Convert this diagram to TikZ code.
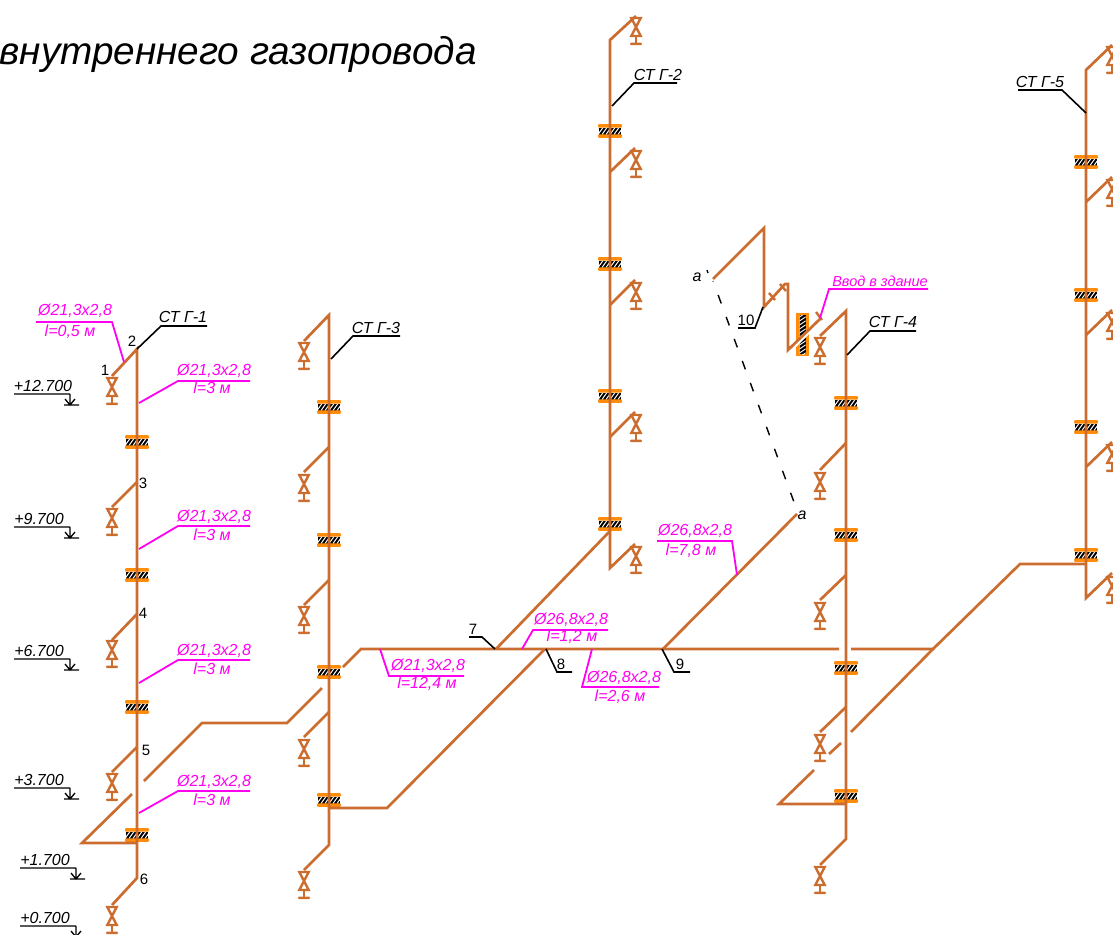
\documentclass[tikz,border=0pt]{standalone}
\usepackage{fontspec}
\setmainfont{Liberation Sans}
\definecolor{pipec}{HTML}{CC6D30}
\definecolor{sleevec}{HTML}{FF8C0A}
\definecolor{mag}{HTML}{FF00F0}
\tikzset{
  x=1pt,y=-1pt,
  pipe/.style={draw=pipec,line width=2.7pt,line join=miter},
  pipethin/.style={draw=pipec,line width=2.4pt},
  lead/.style={draw=black,line width=1.6pt},
  mlead/.style={draw=mag,line width=1.8pt},
  lvl/.style={draw=black,line width=1.3pt},
  mtxt/.style={text=mag,font=\fontsize{16}{16}\selectfont\itshape,inner sep=0pt},
  btxt/.style={text=black,font=\fontsize{16}{16}\selectfont\itshape,inner sep=0pt},
  ntxt/.style={text=black,font=\fontsize{15}{15}\selectfont,inner sep=0pt},
  atxt/.style={text=black,font=\fontsize{16}{16}\selectfont\itshape,inner sep=0pt},
  valvepic/.pic={
    \draw[pipethin,line join=miter] (-4.7,0) -- (4.7,0) -- (-4.7,18) -- (4.7,18) -- cycle;
    \draw[pipethin,line cap=round] (0,18) -- (0,25.5);
    \fill[pipec,rounded corners=1pt] (-6,24.6) rectangle (6,27.2);
  },
  sleevepic/.pic={
    \fill[black] (-11,-3.5) rectangle (11,3.5);
    \begin{scope}
      \clip (-11,-3.5) rectangle (11,3.5);
      \foreach \d in {-9,-5,-1,3,7,11}
        \draw[white,line width=1pt] (\d-3,3.5) -- (\d+2,-3.5);
    \end{scope}
    \fill[sleevec,rounded corners=1pt] (-12,-6.8) rectangle (12,-3.4) (-12,3.4) rectangle (12,6.8);
  },
  levelpic/.pic={
    \draw[lvl] (-56,0) -- (0,0) (0,0) -- (0,11) (-6,11) -- (9,11) (-5,5) -- (0,11) -- (5,5);
  },
}
\begin{document}
\begin{tikzpicture}
\useasboundingbox (0,0) rectangle (1113,934);
\clip (0,0) rectangle (1113,934);

% sleeves
\foreach \x/\y in {137/442,137/575,137/707,137/835,
  329/407,329/540,329/672,329/800,
  610/131,610/264,610/396,610/524,
  846/403,846/535,846/668,846/796,
  1086/162,1086/295,1086/427,1086/555}
  \pic at (\x,\y) {sleevepic};

% wall
\fill[sleevec] (796,313) rectangle (809,356);
\fill[black] (799.5,315) rectangle (805.5,354);
\begin{scope}
  \clip (799.5,315) rectangle (805.5,354);
  \foreach \d in {315,319,...,355}
    \draw[white,line width=.9pt] (798,\d+3) -- (807,\d-3);
\end{scope}
\fill[white] (790,347) -- (815,322) -- (815,328) -- (790,353) -- cycle;

% risers with their valve branches
\draw[pipe] (112,376) -- (137,349) -- (137,878) -- (112,905);
\draw[pipe] (137,482) -- (112,507);
\draw[pipe] (137,614) -- (112,640);
\draw[pipe] (137,747) -- (112,772);
\foreach \x/\y in {112/378,112/509,112/641,112/774,112/907}
  \pic at (\x,\y) {valvepic};

\draw[pipe] (304,341) -- (329,315) -- (329,845) -- (304,870);
\draw[pipe] (329,447) -- (304,472);
\draw[pipe] (329,580) -- (304,605);
\draw[pipe] (329,712) -- (304,737);
\foreach \x/\y in {304/343,304/475,304/607,304/740,304/872}
  \pic at (\x,\y) {valvepic};

\draw[pipe] (636,16) -- (610,40) -- (610,568) -- (635,544);
\draw[pipe] (610,172) -- (635,148);
\draw[pipe] (610,305) -- (635,280);
\draw[pipe] (610,437) -- (635,412);
\foreach \x/\y in {636/18,636/151,636/283,636/415,636/547}
  \pic at (\x,\y) {valvepic};

\draw[pipe] (820,336) -- (846,311) -- (846,839) -- (820,865);
\draw[pipe] (846,443) -- (820,470);
\draw[pipe] (846,575) -- (820,600);
\draw[pipe] (846,707) -- (820,732);
\foreach \x/\y in {820/338,820/473,820/603,820/735,820/867}
  \pic at (\x,\y) {valvepic};

\draw[pipe] (1112,45) -- (1086,70) -- (1086,598) -- (1112,573);
\draw[pipe] (1086,202) -- (1112,177);
\draw[pipe] (1086,335) -- (1112,310);
\draw[pipe] (1086,467) -- (1112,442);
\foreach \x/\y in {1112/47,1112/180,1112/313,1112/445,1112/577}
  \pic at (\x,\y) {valvepic};

% distribution piping
\draw[pipe] (137,843) -- (82,843) -- (132,794);
\draw[pipe] (144,781) -- (202,723) -- (287,723) -- (322,688);
\draw[pipe] (343,667) -- (361,649) -- (839,649);
\draw[pipe] (851,732) -- (933,649) -- (1020,564) -- (1086,564);
\draw[pipe,line join=bevel] (851,649) -- (933,649) -- (934,648);
\draw[pipe] (329,808) -- (387,808) -- (545,649);
\draw[pipe] (496,649) -- (610,531);
\draw[pipe] (841,743) -- (829,754);
\draw[pipe] (814,770) -- (779,804) -- (846,804);
\draw[pipe] (663,649) -- (797,514);

% entry
\draw[pipe] (713,279) -- (764,228) -- (764,307) -- (785,284) -- (788,284) -- (788,350) -- (821,318);
\draw[pipethin] (769,293) -- (775,300) (780,284) -- (786,291) (816,312) -- (822,320);

% dashed section line
\draw[black,line width=1.4pt,dash pattern=on 9pt off 14.4pt,dash phase=8.5pt] (713,281) -- (798,513);
\draw[black,line width=1.4pt] (707,270) -- (708,273);

% level marks
\foreach \x/\y in {70/394,70/527,70/659,70/788,76/868,76/926}
  \pic at (\x,\y) {levelpic};
\node[btxt] (l1) at (43,386) {+12.700};
\node[btxt] (l2) at (39,519) {+9.700};
\node[btxt] (l3) at (39,651) {+6.700};
\node[btxt] (l4) at (39,780) {+3.700};
\node[btxt] (l5) at (45,860) {+1.700};
\node[btxt] (l6) at (45,918) {+0.700};

% black leaders
\draw[lead] (137,349) -- (161,326) -- (207,326);
\draw[lead] (331,359) -- (353,336) -- (400,336);
\draw[lead] (612,106) -- (634,83) -- (677,83);
\draw[lead] (847,355) -- (870,331) -- (916,331);
\draw[lead] (1086,113) -- (1062,90) -- (1018,90);
\draw[lead] (469,637) -- (482,637) -- (495,649);
\draw[lead] (546,649) -- (557,672) -- (572,672);
\draw[lead] (662,649) -- (674,672) -- (690,672);
\draw[lead] (763,307) -- (755,328) -- (738,328);

\node[btxt] (g1) at (183,317) {СТ Г-1};
\node[btxt] (g3) at (376,328) {СТ Г-3};
\node[btxt] (g2) at (658,75) {СТ Г-2};
\node[btxt] (g4) at (893,322) {СТ Г-4};
\node[btxt] (g5) at (1040,82) {СТ Г-5};

\node[ntxt] (n1) at (105,370) {1};
\node[ntxt] (n2) at (132,341) {2};
\node[ntxt] (n3) at (143,483) {3};
\node[ntxt] (n4) at (143,613) {4};
\node[ntxt] (n5) at (146,750) {5};
\node[ntxt] (n6) at (144,879) {6};
\node[ntxt] (n7) at (473,629) {7};
\node[ntxt] (n8) at (561,664) {8};
\node[ntxt] (n9) at (680,664) {9};
\node[ntxt] (n10) at (746,320) {10};
\node[atxt] (a1) at (697,277) {a};
\node[atxt] (a2) at (802,515) {a};

% magenta leaders
\draw[mlead] (36,322) -- (112,322) -- (124,362);
\draw[mlead] (139,403) -- (178,381) -- (250,381);
\draw[mlead] (139,549) -- (178,526) -- (250,526);
\draw[mlead] (139,683) -- (178,660) -- (250,660);
\draw[mlead] (139,813) -- (178,791) -- (250,791);
\draw[mlead] (380,649) -- (389,676) -- (464,676);
\draw[mlead] (522,649) -- (533,630) -- (608,630);
\draw[mlead] (592,649) -- (582,687) -- (659,687);
\draw[mlead] (737,575) -- (732,541) -- (657,541);
\draw[mlead] (820,318) -- (829,289) -- (928,289);

\node[mtxt] (m1) at (75,311) {Ø21,3x2,8};
\node[mtxt] (m1b) at (70,332) {l=0,5 м};
\node[mtxt] (m2) at (214,371) {Ø21,3x2,8};
\node[mtxt] (m2b) at (212,388) {l=3 м};
\node[mtxt] (m3) at (214,517) {Ø21,3x2,8};
\node[mtxt] (m3b) at (212,535) {l=3 м};
\node[mtxt] (m4) at (214,651) {Ø21,3x2,8};
\node[mtxt] (m4b) at (212,669) {l=3 м};
\node[mtxt] (m5) at (214,782) {Ø21,3x2,8};
\node[mtxt] (m5b) at (212,800) {l=3 м};
\node[mtxt] (m6) at (428,666) {Ø21,3x2,8};
\node[mtxt] (m6b) at (427,684) {l=12,4 м};
\node[mtxt] (m7) at (571,620) {Ø26,8x2,8};
\node[mtxt] (m7b) at (572,637) {l=1,2 м};
\node[mtxt] (m8) at (624,678) {Ø26,8x2,8};
\node[mtxt] (m8b) at (620,697) {l=2,6 м};
\node[mtxt] (m9) at (695,531) {Ø26,8x2,8};
\node[mtxt] (m9b) at (691,551) {l=7,8 м};
\node[mtxt,font=\fontsize{14.5}{15}\selectfont\itshape] (m10) at (880,281) {Ввод в здание};

% title
\node[text=black,font=\fontsize{38.7}{39}\selectfont\itshape,inner sep=0pt,anchor=base east] (title) at (477,65) {внутреннего газопровода};
\end{tikzpicture}
\end{document}
